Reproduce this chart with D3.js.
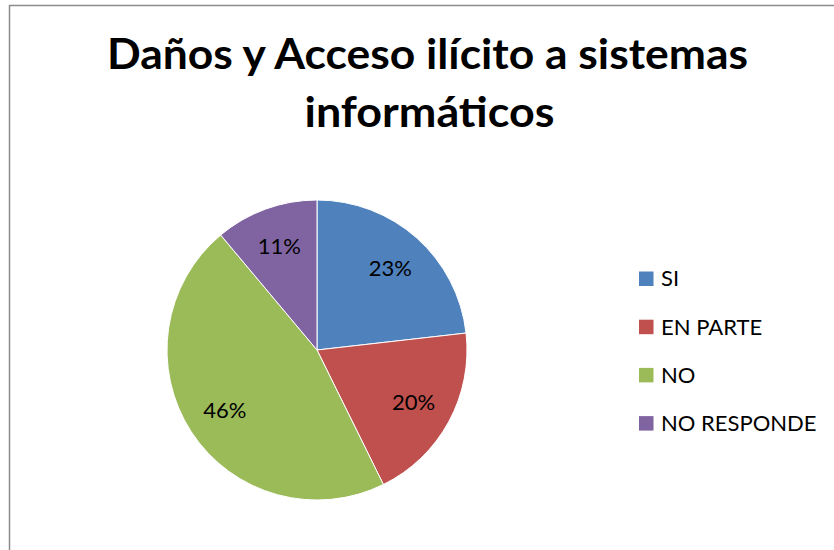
<!DOCTYPE html>
<html><head><meta charset="utf-8">
<script src="https://cdn.jsdelivr.net/npm/d3@7"></script>
<style>body{margin:0;background:#fff}svg{display:block}</style>
</head><body>
<script>
const titleLines = ["Daños y Acceso ilícito a sistemas", "informáticos"];
const categories = ["SI", "EN PARTE", "NO", "NO RESPONDE"];
const values = [23.2, 19.5, 46.2, 11.1];
const colors = ["#4F81BD", "#C0504D", "#9BBB59", "#8064A2"];

const W = 834, H = 550;
const svg = d3.select("body").append("svg").attr("width", W).attr("height", H);
const font = "Lato, 'Open Sans', sans-serif";

svg.append("rect").attr("x", 9.5).attr("y", 5.5).attr("width", 900).attr("height", 600)
  .attr("fill", "#fff").attr("stroke", "#8c8c8c").attr("stroke-width", 1.5);

const titleWidths = [641, 250];
svg.append("g").selectAll("text").data(titleLines).join("text")
  .attr("x", (d, i) => i ? 429.5 : 427.5).attr("y", (d, i) => 69 + i * 58)
  .attr("text-anchor", "middle").attr("font-family", font).attr("font-weight", "bold")
  .attr("font-size", 42).attr("fill", "#000")
  .attr("textLength", (d, i) => titleWidths[i]).attr("lengthAdjust", "spacingAndGlyphs")
  .text(d => d);

const cx = 317, cy = 350, r = 150;
const total = d3.sum(values);
const pie = d3.pie().sort(null).value(d => d)(values);
const arc = d3.arc().innerRadius(0).outerRadius(r);
const labelArc = d3.arc().innerRadius(110).outerRadius(110);
const g = svg.append("g").attr("transform", `translate(${cx},${cy})`);
g.selectAll("path").data(pie).join("path")
  .attr("d", arc).attr("fill", (d, i) => colors[i])
  .attr("stroke", "#fff").attr("stroke-width", 1);
g.selectAll("text").data(pie).join("text")
  .attr("transform", d => `translate(${labelArc.centroid(d)})`)
  .attr("text-anchor", "middle").attr("dy", "0.35em")
  .attr("font-family", font).attr("font-size", 22).attr("fill", "#000")
  .text(d => Math.round(d.value / total * 100) + "%");

const leg = svg.append("g").selectAll("g").data(categories).join("g")
  .attr("transform", (d, i) => `translate(639, ${278.5 + i * 48.2})`);
leg.append("rect").attr("x", 0).attr("y", -7).attr("width", 14.5).attr("height", 14.5)
  .attr("fill", (d, i) => colors[i]);
leg.append("text").attr("x", 22).attr("y", 0).attr("dy", "0.36em")
  .attr("font-family", font).attr("font-size", 22).attr("fill", "#000").text(d => d);
</script>
</body></html>
